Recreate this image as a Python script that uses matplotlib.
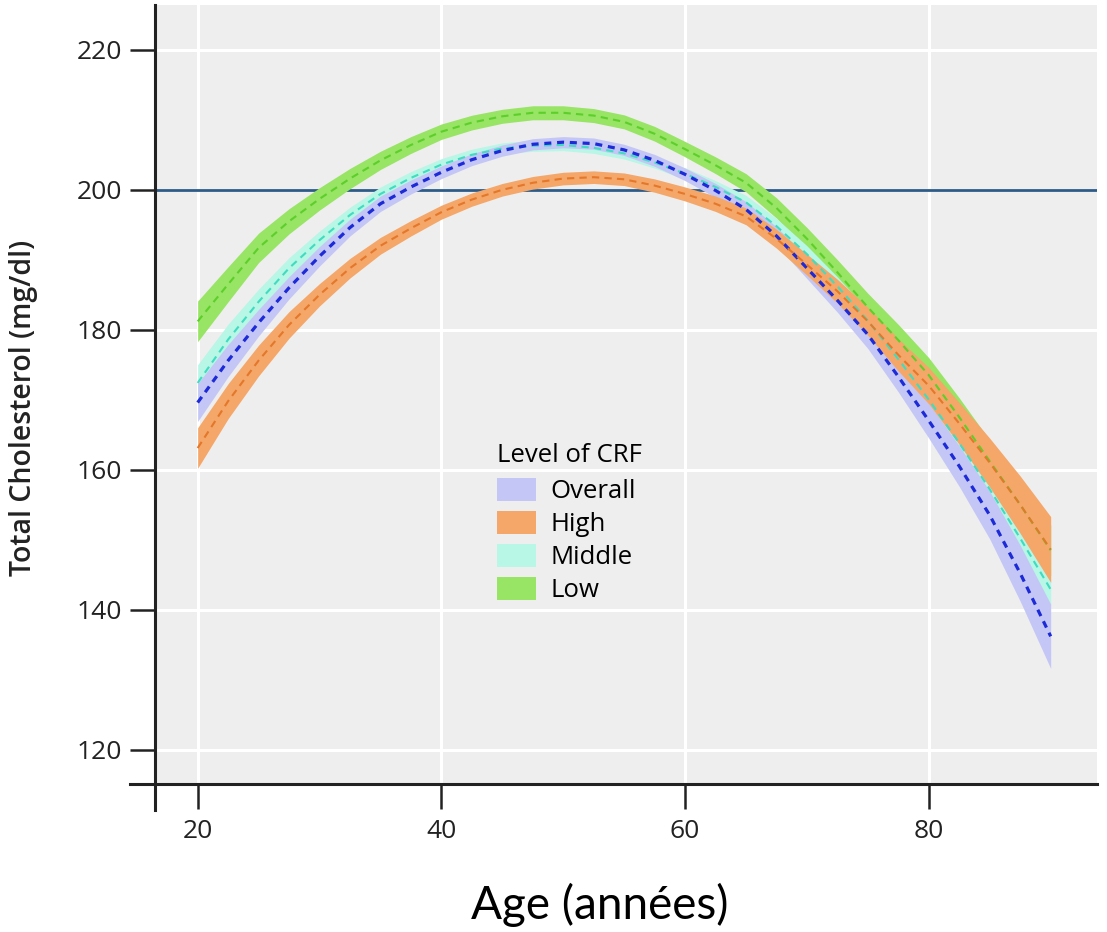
import matplotlib
matplotlib.use("Agg")
import matplotlib.pyplot as plt
from matplotlib.patches import Patch
from matplotlib.lines import Line2D
import numpy as np

# ---------------- data ----------------
ages = [20, 22.5, 25, 27.5, 30, 32.5, 35, 37.5, 40, 42.5, 45, 47.5, 50, 52.5, 55,
        57.5, 60, 62.5, 65, 67.5, 70, 72.5, 75, 77.5, 80, 82.5, 85, 87.5, 90]

overall = [169.6, 175.6, 181.0, 186.0, 190.5, 194.6, 198.0, 200.4, 202.5, 204.3,
           205.6, 206.5, 206.8, 206.6, 205.7, 204.2, 202.2, 199.9, 197.2, 193.4,
           188.8, 184.2, 179.3, 173.3, 167.0, 160.5, 153.5, 145.2, 136.2]
overall_hw = [2.7, 2.3, 1.9, 1.6, 1.4, 1.2, 1.1, 1.0, 0.9, 0.85, 0.8, 0.8, 0.8, 0.8, 0.8,
              0.85, 0.9, 1.0, 1.1, 1.3, 1.5, 1.7, 2.0, 2.2, 2.5, 2.9, 3.4, 4.0, 4.6]

high = [163.1, 169.8, 175.6, 180.7, 185.0, 188.8, 192.0, 194.5, 196.8, 198.6,
        200.0, 201.0, 201.6, 201.8, 201.5, 200.6, 199.4, 198.0, 196.2, 193.0,
        189.3, 185.5, 181.2, 176.4, 172.0, 166.6, 161.0, 155.0, 148.6]
high_hw = [2.9, 2.5, 2.2, 1.9, 1.6, 1.4, 1.2, 1.1, 1.0, 0.95, 0.9, 0.9, 0.9, 0.9, 0.9,
           0.95, 1.0, 1.1, 1.2, 1.35, 1.5, 1.7, 2.0, 2.3, 2.6, 3.0, 3.5, 4.1, 4.7]

middle = [172.4, 178.6, 184.0, 188.8, 192.8, 196.4, 199.4, 201.7, 203.6, 205.0,
          205.9, 206.3, 206.4, 206.0, 205.2, 203.9, 202.3, 200.4, 198.2, 194.8,
          190.8, 186.2, 181.3, 175.8, 170.0, 163.8, 157.2, 150.2, 142.9]
middle_hw = [2.6, 2.2, 1.8, 1.5, 1.3, 1.1, 1.0, 0.9, 0.85, 0.8, 0.8, 0.8, 0.8, 0.8, 0.8,
             0.8, 0.85, 0.9, 1.0, 1.1, 1.2, 1.35, 1.5, 1.65, 1.8, 1.9, 2.0, 2.1, 2.2]

low = [181.2, 186.5, 191.7, 195.5, 198.7, 201.6, 204.2, 206.4, 208.3, 209.6,
       210.5, 211.0, 211.0, 210.6, 209.7, 208.0, 205.8, 203.5, 201.0, 197.4,
       193.0, 188.2, 183.2, 178.5, 173.5, 167.5, 161.2, 155.0, 148.5]
low_hw = [2.9, 2.5, 2.1, 1.8, 1.6, 1.45, 1.3, 1.2, 1.1, 1.05, 1.0, 1.0, 1.0, 1.0, 1.0,
          1.05, 1.1, 1.2, 1.3, 1.45, 1.6, 1.8, 2.0, 2.25, 2.5, 2.75, 3.0, 3.3, 3.6]

legend_title = "Level of CRF"
series_labels = ["Overall", "High", "Middle", "Low"]
x_ticks = [20, 40, 60, 80]
y_ticks = [120, 140, 160, 180, 200, 220]
reference_level = 200

# ---------------- style ----------------
fill_colors = {"Overall": "#c4c7f5", "High": "#f4a769", "Middle": "#b8f6e6", "Low": "#98e465"}
line_colors = {"Overall": "#1c2ad8", "High": "#e4772a", "Middle": "#3fdcc0", "Low": "#5ccf2a"}

plt.rcParams['font.family'] = ['Open Sans', 'DejaVu Sans']

fig = plt.figure(figsize=(11.07, 9.32), dpi=100)
ax = fig.add_axes([155/1107, (932-784)/932, 942/1107, 779/932])
ax.set_facecolor("#eeeeee")

ax.set_xlim(16.5, 93.8)
ax.set_ylim(115.1, 226.4)

ax.set_xticks(x_ticks)
ax.set_yticks(y_ticks)
ax.grid(True, color="white", linewidth=2.2, zorder=0)
ax.set_axisbelow(True)

for s in ax.spines.values():
    s.set_visible(False)

# extended spines
ax.add_line(Line2D([0, 0], [1, -0.034], transform=ax.transAxes, color="#222222",
                   linewidth=2.2, clip_on=False, zorder=5))
ax.add_line(Line2D([-0.027, 1], [0, 0], transform=ax.transAxes, color="#222222",
                   linewidth=2.2, clip_on=False, zorder=5))

ax.tick_params(axis="both", direction="out", length=18, width=1.8, color="#222222",
               labelsize=19, labelcolor="#222222")
ax.tick_params(axis="x", pad=7)
ax.tick_params(axis="y", pad=6)

ax.axhline(reference_level, color="#2b5b88", linewidth=2.0, zorder=1)

data = {"Overall": (overall, overall_hw), "High": (high, high_hw),
        "Middle": (middle, middle_hw), "Low": (low, low_hw)}

ages_a = np.array(ages, dtype=float)
draw_order = ["Low", "Middle", "Overall", "High"]
for i, name in enumerate(draw_order):
    vals, hw = data[name]
    v = np.array(vals)
    h = np.array(hw)
    ax.fill_between(ages_a, v - h, v + h, color=fill_colors[name], linewidth=0,
                    zorder=2 + i)
for i, name in enumerate(draw_order):
    vals, hw = data[name]
    if name == "Overall":
        ax.plot(ages_a, vals, color=line_colors[name], linewidth=2.3,
                dashes=(2.2, 1.8), zorder=10)
    else:
        ax.plot(ages_a, vals, color=line_colors[name], linewidth=1.5,
                dashes=(3.5, 2.5), zorder=7 + i)

handles = [Patch(facecolor=fill_colors[n], edgecolor="none") for n in series_labels]
leg = ax.legend(handles, series_labels, title=legend_title, loc="upper left",
                bbox_to_anchor=(0.338, 0.467), frameon=False, fontsize=18.5,
                title_fontsize=18.5, handlelength=1.55, handleheight=1.0,
                labelspacing=0.26, handletextpad=0.55, alignment="left")
leg._legend_box.sep = 7

ax.set_ylabel("Total Cholesterol (mg/dl)", fontsize=20.5, fontweight="semibold",
              color="#222222")
ax.yaxis.set_label_coords(-0.124, 0.483)

fig.text(0.542, 0.029, "Age (années)", fontsize=33, family=["Lato", "DejaVu Sans"],
         ha="center", va="center", color="black")

fig.savefig("out.png", dpi=100)
